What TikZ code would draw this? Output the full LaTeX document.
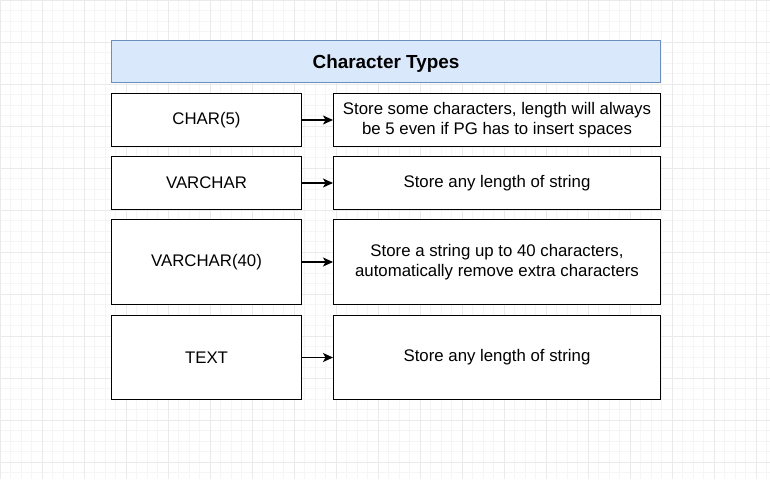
\documentclass[tikz,border=0pt]{standalone}
\usepackage{fontspec}
\setmainfont{Liberation Sans}
\usetikzlibrary{arrows.meta}
\definecolor{titlefill}{HTML}{DAE8FC}
\definecolor{titledraw}{HTML}{6C8EBF}
\definecolor{gridminor}{HTML}{F5F5F5}
\definecolor{gridmajor}{HTML}{EAEAEA}
\tikzset{
  x=1pt,y=-1pt,
  typebox/.style={draw=black, line width=1pt, fill=white, anchor=north west, inner sep=0pt,
    font=\fontsize{16.8}{20.5}\selectfont, align=center},
  descbox/.style={typebox},
  titlebox/.style={draw=titledraw, line width=1pt, fill=titlefill, anchor=north west, inner sep=0pt,
    font=\fontsize{18.9}{22}\selectfont\bfseries, text height=14pt, text depth=0pt},
  conn/.style={-{Stealth[length=10pt,width=9pt,inset=2.5pt]}, line width=1.1pt}
}
\begin{document}
\begin{tikzpicture}
\useasboundingbox (0,0) rectangle (770,479);
\fill[white] (0,0) rectangle (770,479);
% grid
\foreach \i in {0,...,74} {\draw[gridminor,line width=0.5pt] (\i*10.5,0) -- (\i*10.5,479);}
\foreach \i in {0,...,46} {\draw[gridminor,line width=0.5pt] (0,\i*10.5) -- (770,\i*10.5);}
\foreach \i in {0,...,18} {\draw[gridmajor,line width=0.5pt] (\i*42,0) -- (\i*42,479);}
\foreach \i in {0,...,11} {\draw[gridmajor,line width=0.5pt] (0,\i*42) -- (770,\i*42);}

\node[titlebox, minimum width=549pt, minimum height=42pt] (title) at (111,40) {Character Types};

\node[typebox, minimum width=190pt, minimum height=53pt] (t1) at (111,93) {CHAR(5)};
\node[descbox, minimum width=327pt, minimum height=53pt] (d1) at (333,93) {Store some characters, length will always\\be 5 even if PG has to insert spaces};

\node[typebox, minimum width=190pt, minimum height=53pt] (t2) at (111,156) {VARCHAR};
\node[descbox, minimum width=327pt, minimum height=53pt] (d2) at (333,156) {Store any length of string};

\node[typebox, minimum width=190pt, minimum height=85pt] (t3) at (111,219) {VARCHAR(40)};
\node[descbox, minimum width=327pt, minimum height=85pt] (d3) at (333,219) {Store a string up to 40 characters,\\automatically remove extra characters};

\node[typebox, minimum width=190pt, minimum height=84pt] (t4) at (111,315) {TEXT};
\node[descbox, minimum width=327pt, minimum height=84pt] (d4) at (333,315) {Store any length of string};

\draw[conn] (t1) -- (d1);
\draw[conn] (t2) -- (d2);
\draw[conn] (t3) -- (d3);
\draw[conn] (t4) -- (d4);
\end{tikzpicture}
\end{document}
